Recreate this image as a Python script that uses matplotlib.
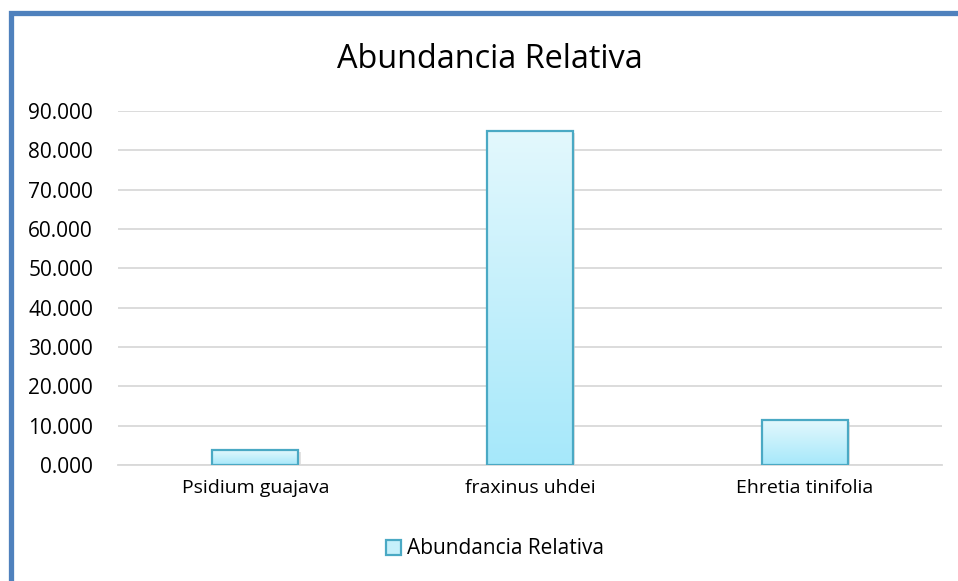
import matplotlib
matplotlib.use("Agg")
import matplotlib.pyplot as plt
import numpy as np
from matplotlib.patches import Rectangle, Patch
from matplotlib.ticker import FuncFormatter
from matplotlib.colors import LinearSegmentedColormap

categories = ["Psidium guajava", "fraxinus uhdei", "Ehretia tinifolia"]
values = [3.8, 84.8, 11.4]
series_name = "Abundancia Relativa"
title = "Abundancia Relativa"
yticks = [0, 10, 20, 30, 40, 50, 60, 70, 80, 90]

plt.rcParams['font.family'] = ['Open Sans', 'DejaVu Sans']

W, H = 958, 581
fig = plt.figure(figsize=(W / 100, H / 100), dpi=100)
ax = fig.add_axes([118 / W, 1 - 465 / H, (942 - 118) / W, (465 - 111) / H])

x = np.arange(len(categories))
bw = 0.313
bars = ax.bar(x, values, width=bw, color='none', edgecolor='#4aa9c4', linewidth=1.6,
              zorder=3, label=series_name)

grad = np.linspace(0, 1, 256).reshape(-1, 1)
cmap = LinearSegmentedColormap.from_list('g', ['#a6e8fa', '#e3f8fd'])
for b in bars:
    x0, y0 = b.get_x(), b.get_y()
    w, h = b.get_width(), b.get_height()
    ax.add_patch(Rectangle((x0 + 0.008, y0 - 0.4), w, h, facecolor='#d0d0d0',
                           edgecolor='none', zorder=1.5, alpha=0.6))
    im = ax.imshow(grad, extent=(x0, x0 + w, y0, y0 + h), origin='lower',
                   cmap=cmap, aspect='auto', zorder=2)
    im.set_clip_path(b)

ax.set_xlim(-0.5, len(categories) - 0.5)
ax.set_ylim(0, 90)
ax.set_yticks(yticks)
ax.yaxis.set_major_formatter(FuncFormatter(lambda v, p: f"{v:.3f}"))
ax.set_xticks(x)
ax.set_xticklabels(categories)
ax.tick_params(axis='both', length=0, colors='#000000')
ax.tick_params(axis='y', pad=18, labelsize=15)
ax.tick_params(axis='x', pad=10, labelsize=14)
ax.grid(axis='y', color='#d9d9d9', linewidth=1.3, zorder=0)
ax.set_axisbelow(True)
for s in ['top', 'right', 'left']:
    ax.spines[s].set_visible(False)
ax.spines['bottom'].set_color('#d9d9d9')
ax.spines['bottom'].set_linewidth(1.3)

fig.text(490 / W, 1 - 59 / H, title, ha='center', va='center', fontsize=23.4)

h = Patch(facecolor='#c6f0fb', edgecolor='#4aa9c4', linewidth=1.6)
fig.legend([h], [series_name], loc='center', bbox_to_anchor=(495 / W, 1 - 549 / H),
           frameon=False, fontsize=15, handlelength=0.75, handleheight=0.75,
           handletextpad=0.3)

fig.patches.append(Rectangle((10.5 / W, -0.1), 1.2, 1 - 13 / H + 0.1, transform=fig.transFigure,
                             facecolor='none', edgecolor='#4f81bd', linewidth=3.8, zorder=10))

fig.savefig("out.png", dpi=100)
